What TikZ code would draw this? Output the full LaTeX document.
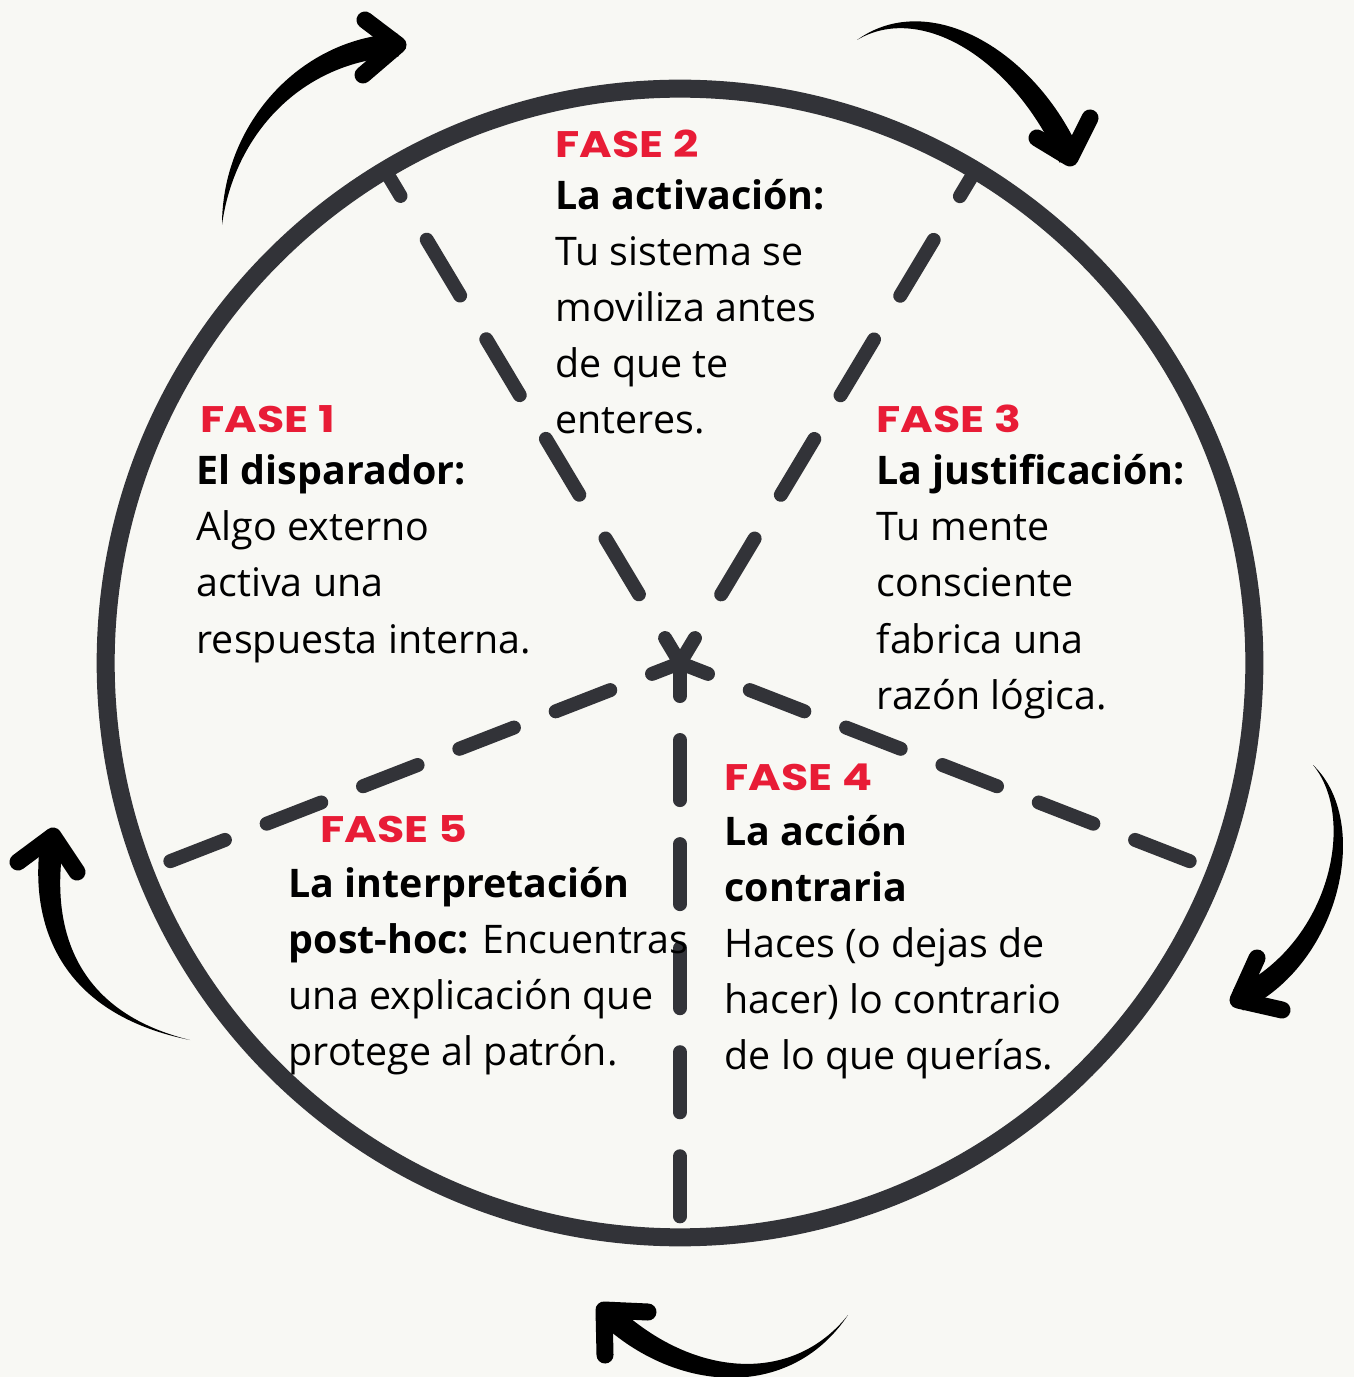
\documentclass[tikz,border=0pt]{standalone}
\usepackage{fontspec}
\setmainfont{Open Sans}
\newfontfamily\fasefont[FakeStretch=1.2]{Poppins}
\usetikzlibrary{calc}

\definecolor{paper}{RGB}{248,248,244}
\definecolor{ink}{RGB}{50,51,56}
\definecolor{faseRed}{RGB}{232,28,54}

% tapered brush arrow: tail, control 1, control 2, tip, arm, arm
\newcommand{\brusharrow}[6]{%
  \fill[black] (#1) .. controls ($(#2)!0.8mm!90:(#3)$) and ($(#3)!1.15mm!90:(#4)$) .. ($(#4)!1.15mm!-90:(#3)$)
    -- ($(#4)!1.15mm!90:(#3)$) .. controls ($(#3)!1.15mm!-90:(#4)$) and ($(#2)!0.8mm!-90:(#3)$) .. (#1) -- cycle;
  \draw[arrowhead] (#5) -- (#4) -- (#6);
}

\begin{document}
\begin{tikzpicture}[x=0.01cm, y=-0.01cm,
  rim/.style={draw=ink, line width=1.8mm},
  spoke/.style={draw=ink, line width=1.4mm, line cap=round},
  arrowhead/.style={draw=black, line width=1.7mm, line cap=round, line join=round},
  fase/.style={anchor=base west, inner sep=0pt, text=faseRed,
    font=\fasefont\bfseries\fontsize{10.5}{12}\selectfont},
  body/.style={anchor=base west, inner sep=0pt, font=\fontsize{11.2}{13}\selectfont}]
  \fill[paper] (0,0) rectangle (1354,1377);
  \useasboundingbox (0,0) rectangle (1354,1377);

  % ---- wheel ----
  \coordinate (c) at (680,663);
  \coordinate (r1) at (385,170);
  \coordinate (r2) at (975,171);
  \coordinate (r3) at (1215,871);
  \coordinate (r4) at (680,1237);
  \coordinate (r5) at (145,871);
  \foreach \i/\on/\off/\ph in {1/6.5/5.1/3.6,2/6.5/5.1/3.6,3/5.85/4.48/2.85,4/6.0/4.4/2.7,5/5.85/4.48/2.85}
    \draw[spoke, dash pattern=on \on mm off \off mm, dash phase=\ph mm] (c) -- (r\i);
  \draw[rim] (c) circle (5.74cm);

  % ---- cycle arrows ----
  \brusharrow{222,225}{228,130}{300,50}{398,45}{365,20}{363,75}
  \brusharrow{857,40}{925,-5}{1025,55}{1070,158}{1037,138}{1090,118}
  \brusharrow{1313,765}{1365,820}{1335,955}{1238,1000}{1257,958}{1282,1010}
  \brusharrow{190,1040}{55,1010}{40,910}{53,836}{18,862}{77,872}
  \brusharrow{848,1315}{790,1395}{680,1385}{604,1310}{648,1312}{605,1355}

  % ---- phases ----
  \node[fase] (fase1) at (200,433) {FASE 1};
  \foreach \ln [count=\i from 0] in {\textbf{El disparador:},Algo externo,activa una,respuesta interna.}
    \node[body] (f1l\i) at (196,{485+56*\i}) {\ln};

  \node[fase] (fase2) at (555,158) {FASE 2};
  \foreach \ln [count=\i from 0] in {\textbf{La activación:},Tu sistema se,moviliza antes,de que te,enteres.}
    \node[body] (f2l\i) at (555,{210+56*\i}) {\ln};

  \node[fase] (fase3) at (876,433) {FASE 3};
  \foreach \ln [count=\i from 0] in {\textbf{La justificación:},Tu mente,consciente,fabrica una,razón lógica.}
    \node[body] (f3l\i) at (876,{485+56*\i}) {\ln};

  \node[fase] (fase4) at (724,790) {FASE 4};
  \foreach \ln [count=\i from 0] in {\textbf{La acción},\textbf{contraria},Haces (o dejas de,hacer) lo contrario,de lo que querías.}
    \node[body] (f4l\i) at (724,{845+56*\i}) {\ln};

  \node[fase] (fase5) at (320,842) {FASE 5};
  \foreach \ln [count=\i from 0] in {\textbf{La interpretación},\textbf{post-hoc:} Encuentras,una explicación que,protege al patrón.}
    \node[body] (f5l\i) at (288,{897+56*\i}) {\ln};
\end{tikzpicture}
\end{document}
